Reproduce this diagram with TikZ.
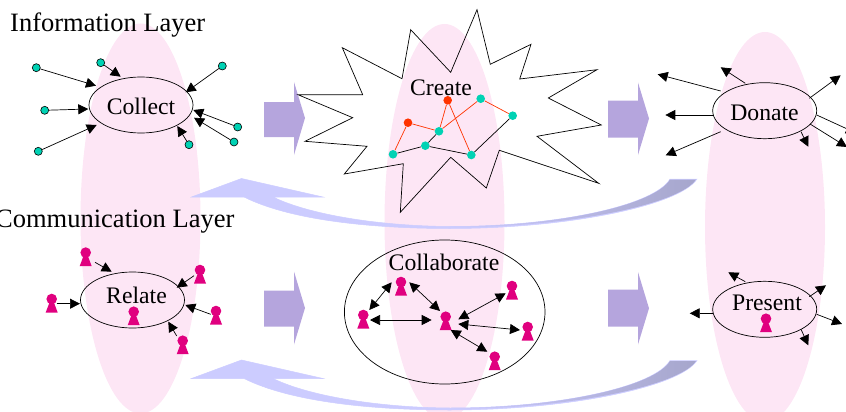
\documentclass[tikz,border=0pt]{standalone}
\usepackage{fontspec}
\setmainfont{Liberation Serif}
\usetikzlibrary{shapes.geometric,arrows.meta}
\definecolor{pinkbg}{HTML}{FDE6F5}
\definecolor{tealdot}{HTML}{00D2B4}
\definecolor{reddot}{HTML}{FF3300}
\definecolor{magent}{HTML}{E0007F}
\definecolor{blockc}{HTML}{B5A5DD}
\definecolor{ribl}{HTML}{CCCCFF}
\definecolor{ribd}{HTML}{A6A6CC}
\tikzset{
  lane/.style={ellipse,fill=pinkbg,draw=none,minimum width=120pt,inner sep=0},
  actor/.style={ellipse,draw=black,line width=0.7pt,minimum width=104pt,minimum height=56pt,inner sep=0},
  lbl/.style={font=\fontsize{23.7}{28}\selectfont,inner sep=0,anchor=base,text=black},
  layerlbl/.style={font=\fontsize{26.5}{30}\selectfont,inner sep=0,anchor=base west,text=black},
  dot/.style={circle,draw=black,line width=0.6pt,fill=tealdot,minimum size=8pt,inner sep=0},
  tdot/.style={circle,fill=tealdot,minimum size=8.6pt,inner sep=0},
  rdot/.style={circle,fill=reddot,minimum size=8.6pt,inner sep=0},
  arr/.style={line width=0.7pt,-{Triangle[length=10pt,width=10pt]}},
  darr/.style={line width=0.7pt,{Triangle[length=10pt,width=10pt]}-{Triangle[length=10pt,width=10pt]}},
  redl/.style={draw=reddot,line width=0.7pt},
  blkl/.style={draw=black,line width=0.7pt},
  figure/.style={minimum width=14pt,minimum height=21pt,inner sep=0,
    path picture={\begin{scope}[shift={(path picture bounding box.center)}]
      \fill[magent] (0,-4) circle (5.3);
      \fill[magent] (-2.2,-0.5)--(2.2,-0.5)--(6,9.5)--(-6,9.5)--cycle;
    \end{scope}}},
  blockarrow/.style={fill=blockc,draw=none},
}
\newcommand{\ribbon}[1]{%
  \begin{scope}[yshift=#1]
    \fill[ribl,draw=ribl,line width=0.5pt] (191.5,197) -- (241.5,178.5) -- (323,197) -- (273,197)
      .. controls (310,215) and (380,226) .. (450,226.5)
      .. controls (560,226.5) and (655,205) .. (670,179) -- (697,179)
      .. controls (680,205) and (570,228.5) .. (450,228.5)
      .. controls (370,228.5) and (290,220) .. (244,197) -- cycle;
    \shade[left color=ribl,middle color=ribd,right color=ribd] (450,226.5)
      .. controls (560,226.5) and (655,205) .. (670,179.5) -- (696,179.5)
      .. controls (680,204) and (570,227.5) .. (450,227.5) -- cycle;
  \end{scope}}
\begin{document}
\begin{tikzpicture}[x=1pt,y=-1pt]
\useasboundingbox (0,0) rectangle (846,412);
\clip (0,0) rectangle (846,412);
% lanes
\node[lane,minimum height=390pt] (laneA) at (140.5,218.5) {};
\node[lane,minimum height=396pt] (laneB) at (444.5,222) {};
\node[lane,minimum height=390pt] (laneC) at (765,227) {};
% block arrows
\fill[blockarrow] (264,102)--(294,102)--(294,82)--(305,118)--(294,155)--(294,137)--(264,137)--cycle;
\fill[blockarrow] (608,100.5)--(638,100.5)--(638,82.5)--(649,118.5)--(638,155)--(638,137.5)--(608,137.5)--cycle;
\fill[blockarrow] (264,290.5)--(294,290.5)--(294,271.5)--(305,308)--(294,344.5)--(294,326.5)--(264,326.5)--cycle;
\fill[blockarrow] (608,289.5)--(638,289.5)--(638,272)--(649,308.3)--(638,344.5)--(638,326.5)--(608,326.5)--cycle;
% return ribbons
\ribbon{0pt}
\ribbon{-181.5pt}
% layer labels
\node[layerlbl] (infolayer) at (10,31.7) {Information Layer};
\node[layerlbl] (commlayer) at (-5,227.7) {Communication Layer};
% Collect
\node[actor] (collect) at (141,105) {};
\node[lbl] (collecttxt) at (141,114.3) {Collect};
\node[dot] (d1) at (36.3,67.7) {};
\node[dot] (d2) at (100.7,62.7) {};
\node[dot] (d3) at (222.3,66) {};
\node[dot] (d4) at (44.7,110.3) {};
\node[dot] (d5) at (237.7,127) {};
\node[dot] (d6) at (234,142) {};
\node[dot] (d7) at (189,144.7) {};
\node[dot] (d8) at (38.3,151.3) {};
\coordinate (ct1) at (96,85.7);
\coordinate (ct2) at (120.7,76.7);
\coordinate (ct3) at (185.7,92.3);
\coordinate (ct4) at (88.3,109);
\coordinate (ct5) at (193.3,110);
\coordinate (ct6) at (194,117.7);
\coordinate (ct7) at (177.3,126);
\coordinate (ct8) at (96.7,125);
\draw[arr] (d1)--(ct1);
\draw[arr] (d2)--(ct2);
\draw[arr] (d3)--(ct3);
\draw[arr] (d4)--(ct4);
\draw[arr] (d5)--(ct5);
\draw[arr] (d6)--(ct6);
\draw[arr] (d7)--(ct7);
\draw[arr] (d8)--(ct8);
% Create
\draw[blkl] (298,94.7)--(362.7,94.7)--(342.3,47.7)--(402,78.7)--(410.7,29.7)--(450.7,72.3)--(477,9.7)--(490.3,64.3)--(531,44.3)--(519.7,79)--(597,69.7)--(548.3,98)--(601.3,125)--(537,136.3)--(598.7,183.3)--(499.3,150.3)--(486.3,188)--(450.7,157.3)--(400.3,212.3)--(403.3,163.7)--(344.3,174)--(367,146.3)--(305,141.3)--(352.7,117.7)--cycle;
\node[lbl] (createtxt) at (441,95.5) {Create};
\node[tdot] (t1) at (393,154.3) {};
\node[tdot] (t2) at (425.3,145.7) {};
\node[tdot] (t3) at (439,131.3) {};
\node[tdot] (t4) at (471.3,155) {};
\node[tdot] (t5) at (480.7,98.7) {};
\node[tdot] (t6) at (512.7,115.7) {};
\node[rdot] (r1) at (408,122.7) {};
\node[rdot] (r2) at (447.7,100.3) {};
\draw[redl] (r1)--(t1);
\draw[redl] (r1)--(t3);
\draw[redl] (r2)--(t3);
\draw[redl] (r2)--(t4);
\draw[redl] (t3)--(t5);
\draw[redl] (t5)--(t6);
\draw[blkl] (t1)--(t2);
\draw[blkl] (t2)--(t3);
\draw[blkl] (t2)--(t4);
\draw[blkl] (t4)--(t6);
% Donate
\node[actor] (donate) at (764.7,110.7) {};
\node[lbl] (donatetxt) at (764.5,120.5) {Donate};
\coordinate (ds1) at (720.7,91);     \coordinate (de1) at (657.7,74.3);
\coordinate (ds2) at (745.3,83.3);   \coordinate (de2) at (720.7,67.3);
\coordinate (ds3) at (809.3,98.3);   \coordinate (de3) at (840.7,75.3);
\coordinate (ds4) at (712.7,115);    \coordinate (de4) at (665.3,115);
\coordinate (ds5) at (720.7,131.7);  \coordinate (de5) at (665.7,155.3);
\coordinate (ds6) at (801,131.7);    \coordinate (de6) at (808.3,146.7);
\coordinate (ds7) at (810,124);      \coordinate (de7) at (847,147);
\coordinate (ds8) at (816.7,115);    \coordinate (de8) at (856,133);
\draw[arr] (ds1)--(de1);
\draw[arr] (ds2)--(de2);
\draw[arr] (ds3)--(de3);
\draw[arr] (ds4)--(de4);
\draw[arr] (ds5)--(de5);
\draw[arr] (ds6)--(de6);
\draw[arr] (ds7)--(de7);
\draw[arr] (ds8)--(de8);
% Relate
\node[actor] (relate) at (132.5,300) {};
\node[lbl] (relatetxt) at (136.5,303) {Relate};
\node[figure] (p1) at (85.7,256.6) {};
\node[figure] (p2) at (51.7,303) {};
\node[figure] (p3) at (133.7,315.7) {};
\node[figure] (p4) at (200,274) {};
\node[figure] (p5) at (216,315) {};
\node[figure] (p6) at (182.7,344.7) {};
\coordinate (rs1) at (95,262.3);     \coordinate (re1) at (111.7,271.7);
\coordinate (rs2) at (56.7,303.7);   \coordinate (re2) at (80,303.7);
\coordinate (rs3) at (194,275.7);    \coordinate (re3) at (176.7,287.7);
\coordinate (rs4) at (210.7,314.3);  \coordinate (re4) at (185.3,305);
\coordinate (rs5) at (176.7,336);    \coordinate (re5) at (168.3,321.7);
\draw[arr] (rs1)--(re1);
\draw[arr] (rs2)--(re2);
\draw[arr] (rs3)--(re3);
\draw[arr] (rs4)--(re4);
\draw[arr] (rs5)--(re5);
% Collaborate
\node[actor,minimum width=200.6pt,minimum height=144pt] (collab) at (444.7,312) {};
\node[lbl] (collabtxt) at (444,270.5) {Collaborate};
\node[figure] (q1) at (401,286) {};
\node[figure] (q2) at (363.3,319) {};
\node[figure] (q3) at (445.7,320.7) {};
\node[figure] (q4) at (512,290) {};
\node[figure] (q5) at (527.7,331) {};
\node[figure] (q6) at (494.7,360.7) {};
\coordinate (cs1) at (391.7,282.3);  \coordinate (ce1) at (369.3,310);
\coordinate (cs2) at (409.3,282.3);  \coordinate (ce2) at (440,311);
\coordinate (cs3) at (370,320);      \coordinate (ce3) at (431.7,320);
\coordinate (cs4) at (505.7,293.3);  \coordinate (ce4) at (458.3,319.3);
\coordinate (cs5) at (458.3,324);    \coordinate (ce5) at (520,330);
\coordinate (cs6) at (450.7,330);    \coordinate (ce6) at (487.3,351.7);
\draw[darr] (cs1)--(ce1);
\draw[darr] (cs2)--(ce2);
\draw[darr] (cs3)--(ce3);
\draw[darr] (cs4)--(ce4);
\draw[darr] (cs5)--(ce5);
\draw[darr] (cs6)--(ce6);
% Present
\node[actor] (present) at (764.7,309.3) {};
\node[lbl] (presenttxt) at (767,310.5) {Present};
\node[figure] (p7) at (766,322.7) {};
\coordinate (ps1) at (745.3,281.7);  \coordinate (pe1) at (728.3,272.3);
\coordinate (ps2) at (809.3,296.7);  \coordinate (pe2) at (826,285.3);
\coordinate (ps3) at (712.7,313.3);  \coordinate (pe3) at (689.7,313.3);
\coordinate (ps4) at (801,329.3);    \coordinate (pe4) at (808.3,345.3);
\coordinate (ps5) at (816.7,314.3);  \coordinate (pe5) at (842,324);
\draw[arr] (ps1)--(pe1);
\draw[arr] (ps2)--(pe2);
\draw[arr] (ps3)--(pe3);
\draw[arr] (ps4)--(pe4);
\draw[arr] (ps5)--(pe5);
\end{tikzpicture}
\end{document}
